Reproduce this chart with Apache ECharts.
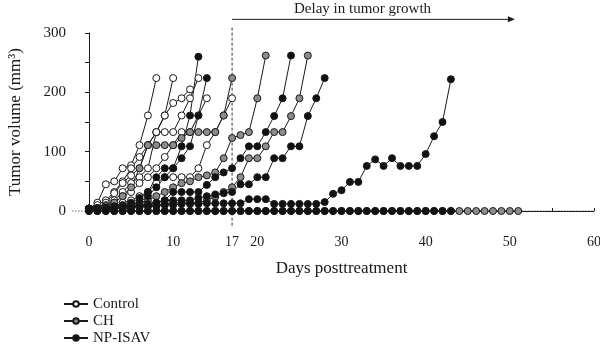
<!DOCTYPE html>
<html>
<head>
<meta charset="utf-8">
<script src="https://cdn.jsdelivr.net/npm/echarts@6/dist/echarts.min.js"></script>
<style>
  html, body { margin: 0; padding: 0; background: #fff; }
  #chart { width: 600px; height: 350px; }
</style>
</head>
<body>
<div id="chart"></div>
<script>
// axis ticks / labels
const xTicks = [0, 5, 10, 15, 20, 25, 30, 35, 40, 45, 50, 55, 60];
const xLabels = [0, 10, 17, 20, 30, 40, 50, 60];
const yLabels = [0, 100, 200, 300];

// annotation (days / mm3)
const treatmentDay = 17;
const delayEndDay = 50.6;
const delayText = "Delay in tumor growth";

// one array per mouse, value for day 0, 1, 2, ...
const controlMice = [
  [4, 14, 45, 50, 72, 77, 111, 161, 224],
  [4, 10, 18, 32, 50, 72, 91, 111, 133, 161, 224],
  [4, 5, 14, 30, 47, 60, 72, 111, 133, 161, 182, 190, 205],
  [4, 5, 10, 18, 32, 47, 57, 72, 133, 133, 133, 161, 190, 224],
  [4, 4, 8, 14, 25, 32, 47, 57, 72, 91, 111, 133, 133, 161, 190],
  [4, 4, 5, 8, 14, 18, 25, 32, 47, 57, 57, 57, 57, 72, 111, 133, 161, 190]
];
const chMice = [
  [0, 0, 0, 0, 0, 0, 0, 0, 0, 0, 0, 0, 0, 0, 0, 0, 0, 0, 0, 0, 0, 0, 0, 0, 0, 0,
   0, 0, 0, 0, 0, 0, 0, 0, 0, 0, 0, 0, 0, 0, 0, 0, 0, 0, 0, 0, 0, 0, 0, 0, 0, 0],
  [4, 5, 8, 14, 25, 40, 72, 111, 111, 111, 111, 123, 133, 133, 133, 133, 161, 224],
  [4, 4, 5, 5, 8, 10, 14, 18, 25, 32, 40, 47, 50, 57, 60, 65, 89, 123, 128, 133, 190, 262],
  [4, 4, 4, 5, 5, 6, 8, 8, 10, 12, 14, 14, 14, 14, 18, 24, 32, 40, 57, 89, 89, 109, 133, 133, 160, 190, 262]
];
const npIsavMice = [
  [4, 4, 5, 8, 10, 14, 22, 32, 57, 72, 72, 109, 161, 260],
  [4, 4, 5, 5, 8, 10, 14, 25, 40, 57, 72, 89, 109, 161, 224],
  [4, 4, 5, 5, 6, 8, 10, 12, 14, 18, 32, 32, 32, 32, 44, 57, 65, 72, 89, 109, 109, 133, 160, 190, 262],
  [4, 4, 4, 5, 5, 6, 8, 10, 14, 18, 18, 18, 18, 22, 25, 28, 30, 32, 45, 45, 57, 57, 89, 89, 109, 109, 160, 190, 224],
  [4, 4, 4, 4, 5, 5, 6, 8, 8, 10, 10, 12, 12, 12, 13, 13, 13, 13, 13, 20, 20, 20,
   12, 12, 12, 12, 12, 12, 15, 29, 35, 49, 49, 76, 87, 76, 89, 76, 76, 76, 96, 126, 150, 222],
  [0, 0, 0, 0, 0, 0, 0, 0, 0, 0, 0, 0, 0, 0, 0, 0, 0, 0, 0, 0, 0, 0,
   0, 0, 0, 0, 0, 0, 0, 0, 0, 0, 0, 0, 0, 0, 0, 0, 0, 0, 0, 0, 0, 0]
];

const groups = [
  { name: "Control", fill: "#ffffff", mice: controlMice },
  { name: "CH", fill: "#8c8c8c", mice: chMice },
  { name: "NP-ISAV", fill: "#111111", mice: npIsavMice }
];

const FONT = '"Liberation Serif", "DejaVu Serif", serif';
const INK = "#1a1a1a";

const series = [];
for (const g of groups) {
  for (const mouse of g.mice) {
    series.push({
      name: g.name,
      type: "line",
      data: mouse.map((v, day) => [day, v]),
      symbol: "circle",
      symbolSize: 7,
      clip: false,
      lineStyle: { color: INK, width: 1 },
      itemStyle: { color: g.fill, borderColor: INK, borderWidth: 1 },
      emphasis: { disabled: true }
    });
  }
}

const chart = echarts.init(document.getElementById("chart"));
chart.setOption({
  animation: false,
  backgroundColor: "#fff",
  textStyle: { fontFamily: FONT, color: INK },
  grid: { left: 89, right: 6, top: 33, bottom: 139, outerBoundsMode: "none" },
  legend: {
    data: groups.map((g) => g.name),
    orient: "vertical",
    left: 58,
    top: 291,
    height: 58,
    itemWidth: 24,
    itemHeight: 7,
    itemGap: 1,
    textStyle: { fontFamily: FONT, fontSize: 15, lineHeight: 16, color: INK },
    selectedMode: false
  },
  xAxis: {
    type: "value",
    min: 0,
    max: 60,
    interval: 5,
    offset: 17,
    name: "Days posttreatment",
    nameLocation: "middle",
    nameGap: 32,
    nameTextStyle: { fontFamily: FONT, fontSize: 17, color: INK },
    axisLine: { lineStyle: { color: INK, width: 1 } },
    axisTick: { inside: true, length: 3, customValues: xTicks, lineStyle: { color: INK } },
    axisLabel: { customValues: xLabels, fontFamily: FONT, fontSize: 14, color: INK, margin: 7 },
    splitLine: { show: false }
  },
  yAxis: {
    type: "value",
    min: 0,
    max: 300,
    interval: 50,
    offset: 17,
    name: "Tumor volume (mm³)",
    nameLocation: "middle",
    nameGap: 48,
    nameTextStyle: { fontFamily: FONT, fontSize: 17, color: INK },
    axisLine: { show: true, lineStyle: { color: INK, width: 1 } },
    axisTick: { show: true, length: 4, lineStyle: { color: INK } },
    axisLabel: {
      fontFamily: FONT, fontSize: 15, color: INK, margin: 6,
      formatter: (v) => (yLabels.includes(v) ? String(v) : "")
    },
    splitLine: { show: false }
  },
  series
});

// annotations placed through the chart's own scales
const px = (x, y) => chart.convertToPixel({ gridIndex: 0 }, [x, y]);
const zeroL = px(0, 0);
const zeroR = px(60, 0);
const yAxisX = zeroL[0] - 17;
const xAxisY = zeroL[1] + 17;
const dashTop = px(treatmentDay, 309);
const arrowStart = px(treatmentDay, 323);
const arrowEnd = px(delayEndDay, 323);
const textPos = px((treatmentDay + delayEndDay) / 2 - 1.3, 340);

chart.setOption({
  graphic: [
    {
      type: "line", z: 0, silent: true,
      shape: { x1: yAxisX, y1: zeroL[1], x2: zeroR[0], y2: zeroR[1] },
      style: { stroke: "#777", lineWidth: 1, lineDash: [1.5, 1.5] }
    },
    {
      type: "line", z: 0, silent: true,
      shape: { x1: dashTop[0], y1: dashTop[1], x2: dashTop[0], y2: xAxisY },
      style: { stroke: "#333", lineWidth: 1, lineDash: [3, 2] }
    },
    {
      type: "line", silent: true,
      shape: { x1: arrowStart[0], y1: arrowStart[1], x2: arrowEnd[0] - 6, y2: arrowEnd[1] },
      style: { stroke: INK, lineWidth: 1 }
    },
    {
      type: "polygon", silent: true,
      shape: { points: [[arrowEnd[0], arrowEnd[1]], [arrowEnd[0] - 7, arrowEnd[1] - 3], [arrowEnd[0] - 7, arrowEnd[1] + 3]] },
      style: { fill: INK }
    },
    {
      type: "text", silent: true,
      x: textPos[0], y: textPos[1],
      style: {
        text: delayText, fill: INK, font: "15px " + FONT,
        align: "center", verticalAlign: "middle"
      }
    }
  ]
});
</script>
</body>
</html>
